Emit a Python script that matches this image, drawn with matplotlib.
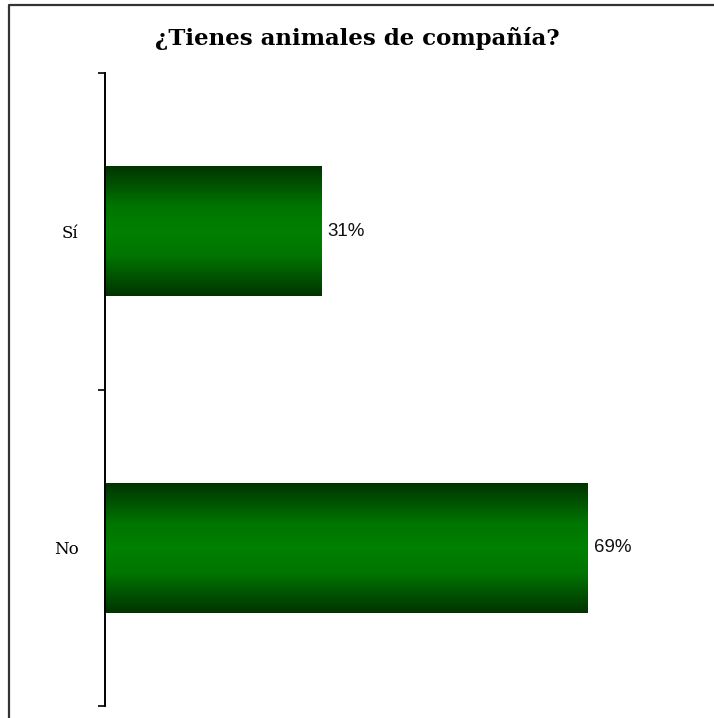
import matplotlib.pyplot as plt
import numpy as np
from matplotlib.colors import LinearSegmentedColormap
from matplotlib.lines import Line2D

categorias = ["No", "Sí"]
porcentajes = [69, 31]
titulo = "¿Tienes animales de compañía?"

fig = plt.figure(figsize=(7.14, 7.18), dpi=100)
ax = fig.add_axes([105 / 714, 12 / 718, 560 / 714, 633 / 718])

# marco exterior del gráfico (sólo se ven los bordes superior e izquierdo)
xm, ym = 8.5 / 714, 1 - 4.5 / 718
fig.lines.append(Line2D([xm, xm, 1.05], [-0.05, ym, ym], transform=fig.transFigure,
                        color="#333333", linewidth=1.6))

verdes = LinearSegmentedColormap.from_list(
    "verdes", [(0, "#003300"), (0.3, "#007400"), (0.5, "#008000"),
               (0.7, "#007400"), (1, "#003300")])
grad = np.linspace(0, 1, 256).reshape(-1, 1)

y = np.arange(len(categorias))
barras = ax.barh(y, porcentajes, height=0.41, color="none")
for b, v in zip(barras, porcentajes):
    x0, y0 = b.get_x(), b.get_y()
    ax.imshow(grad, cmap=verdes, aspect="auto",
              extent=(x0, x0 + b.get_width(), y0, y0 + b.get_height()),
              zorder=2)
    ax.text(x0 + b.get_width() + 0.8, y0 + b.get_height() / 2, f"{v}%",
            va="center", ha="left", fontsize=13.5, family="Liberation Sans",
            color="#111111")

ax.set_xlim(0, 80)
ax.set_ylim(-0.5, 1.5)
ax.set_yticks([-0.5, 0.5, 1.5])
ax.set_yticklabels([])
ax.set_yticks(y, minor=True)
ax.set_yticklabels(categorias, minor=True, family="DejaVu Serif", fontsize=12)
ax.tick_params(axis="y", which="major", length=5, width=1.2)
ax.tick_params(axis="y", which="minor", length=0, pad=19)
ax.set_xticks([])
for s in ["top", "right", "bottom"]:
    ax.spines[s].set_visible(False)
ax.spines["left"].set_linewidth(1.4)

fig.text(0.5, 1 - 38 / 718, titulo, ha="center", va="center",
         fontsize=16.5, fontweight="bold", family="DejaVu Serif")

fig.savefig("out.png", dpi=100, facecolor="white")
